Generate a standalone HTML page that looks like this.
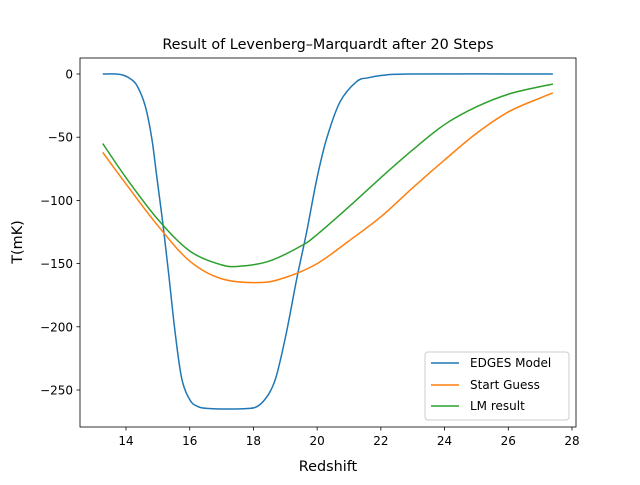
<!DOCTYPE html>
<html><head><meta charset="utf-8"><style>
body{margin:0;background:#fff}
text{font-family:"DejaVu Sans","Liberation Sans",sans-serif;fill:#000}
</style></head><body>
<svg id="chart" width="640" height="480" xmlns="http://www.w3.org/2000/svg">
<rect width="640" height="480" fill="#fff"/>
<text x="328" y="49" font-size="14.4" text-anchor="middle">Result of Levenberg–Marquardt after 20 Steps</text>
<g id="plot"></g>
<rect x="80" y="58" width="496" height="369" fill="none" stroke="#000" stroke-width="0.8"/>
<text x="328" y="471" font-size="14.4" text-anchor="middle">Redshift</text>
<text transform="translate(22,242) rotate(-90)" font-size="14.4" text-anchor="middle">T(mK)</text>
<g>
<rect x="425" y="352" width="144" height="68" rx="3" fill="#fff" fill-opacity="0.8" stroke="#ccc"/>
<line x1="431" y1="363" x2="459" y2="363" stroke="#1f77b4" stroke-width="1.5"/>
<text x="470" y="367" font-size="12">EDGES Model</text>
<line x1="431" y1="385" x2="459" y2="385" stroke="#ff7f0e" stroke-width="1.5"/>
<text x="470" y="389" font-size="12">Start Guess</text>
<line x1="431" y1="406" x2="459" y2="406" stroke="#2ca02c" stroke-width="1.5"/>
<text x="470" y="410" font-size="12">LM result</text>
</g>
</svg>
<script>
const xTicks=[14,16,18,20,22,24,26,28];
const yTicks=[0,-50,-100,-150,-200,-250];
const edgesX=[13.27,13.7,13.92,14.12,14.34,14.6,14.81,14.96,15.15,15.33,15.54,15.75,16.01,16.25,16.53,17.2,17.89,18.12,18.31,18.53,18.73,19.04,19.36,19.67,19.99,20.3,20.72,21.24,21.6,22.07,23,27.4];
const edgesY=[0,0,-1,-3.5,-9,-25,-51,-80,-117,-156,-204,-241,-258,-263,-264.5,-265,-264.5,-263,-259,-251,-238,-204,-162,-125,-83,-51,-22,-6,-3,-1,0,0];
const startX=[13.27,14,15,16,17,18.2,19,20,21,22,23,24,25,26,27,27.4];
const startY=[-62,-87,-120,-148,-162,-165,-161,-150,-132,-113,-90,-68,-47,-30,-19,-15];
const lmX=[13.27,14,15,16,17,17.6,18.5,19.5,20,21,22,23,24,25,26,27,27.4];
const lmY=[-55,-82,-115,-140,-151,-152,-148,-136,-127,-105,-82,-60,-40,-26,-16,-10,-8];
const X=v=>126+(v-14)*446/14;
const Y=v=>74-v*316/250;
const NS="http://www.w3.org/2000/svg";
const g=document.getElementById('plot');
function mk(t,a){const e=document.createElementNS(NS,t);for(const k in a)e.setAttribute(k,a[k]);g.appendChild(e);return e;}
xTicks.forEach(t=>{
  const l=mk('line',{x1:X(t),x2:X(t),y1:427,y2:430.5,stroke:'#000','stroke-width':0.8});
  
  
  const tx=mk('text',{x:X(t),y:445,'font-size':12,'text-anchor':'middle'});tx.textContent=t;
  
  
});
yTicks.forEach(t=>{
  const l=mk('line',{x1:76.5,x2:80,y1:Y(t),y2:Y(t),stroke:'#000','stroke-width':0.8});
  
  
  const tx=mk('text',{x:73,y:Y(t)+4.5,'font-size':12,'text-anchor':'end'});tx.textContent=t===0?'0':'\u2212'+(-t);
  
  
});
function path(xs,ys){
  const p=xs.map((x,i)=>[X(x),Y(ys[i])]);
  let d='M'+p[0][0]+','+p[0][1];
  for(let i=0;i<p.length-1;i++){
    const p0=p[Math.max(0,i-1)],p1=p[i],p2=p[i+1],p3=p[Math.min(p.length-1,i+2)];
    const c1=[p1[0]+(p2[0]-p0[0])/6,p1[1]+(p2[1]-p0[1])/6];
    const c2=[p2[0]-(p3[0]-p1[0])/6,p2[1]-(p3[1]-p1[1])/6];
    d+=' C'+c1+' '+c2+' '+p2;
  }
  return d;
}
[[edgesX,edgesY,'#1f77b4','series-edges-model'],[startX,startY,'#ff7f0e','series-start-guess'],[lmX,lmY,'#2ca02c','series-lm-result']].forEach(s=>{
  const e=mk('path',{d:path(s[0],s[1]),fill:'none',stroke:s[2],'stroke-width':1.5});
  
  
});
</script>
</body></html>
